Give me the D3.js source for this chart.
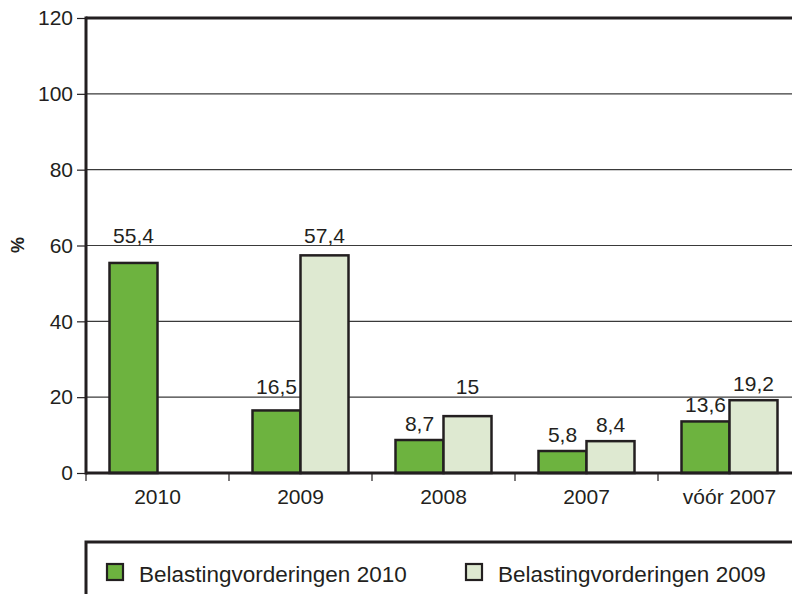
<!DOCTYPE html>
<html>
<head>
<meta charset="utf-8">
<script src="https://cdn.jsdelivr.net/npm/d3@7"></script>
<style>
  body { margin: 0; background: #fff; }
  text { font-family: "Liberation Sans", Arial, sans-serif; fill: #231f20; }
</style>
</head>
<body>
<div id="chart"></div>
<script>
// categories and the two series (values in %)
const categories = ["2010", "2009", "2008", "2007", "vóór 2007"];
const series2010 = [55.4, 16.5, 8.7, 5.8, 13.6];
const series2009 = [null, 57.4, 15, 8.4, 19.2];
const seriesNames = ["Belastingvorderingen 2010", "Belastingvorderingen 2009"];
const yTicks = [0, 20, 40, 60, 80, 100, 120];

const colors = ["#6db33f", "#dee9d1"];
const ink = "#231f20";

const W = 792, H = 594;
const margin = {top: 18, left: 86};
const plotW = 715, plotH = 455;

const svg = d3.select("#chart").append("svg")
    .attr("width", W)
    .attr("height", H);

const g = svg.append("g")
    .attr("transform", `translate(${margin.left},${margin.top})`);

// scales
const x = d3.scaleBand().domain(categories).range([0, plotW]);
const y = d3.scaleLinear().domain([0, 120]).range([plotH, 0]);
const inner = d3.scaleBand().domain([0, 1]).range([23.5, x.bandwidth() - 23.5]);

// gridlines
g.selectAll(".grid")
    .data(yTicks.filter(t => t > 0 && t < 120))
    .enter().append("line")
    .attr("x1", 0).attr("x2", plotW)
    .attr("y1", d => y(d)).attr("y2", d => y(d))
    .attr("stroke", "#3a3a3a")
    .attr("stroke-width", 1.2);

// top border of plot
g.append("line")
    .attr("x1", 0).attr("x2", plotW)
    .attr("y1", y(120)).attr("y2", y(120))
    .attr("stroke", ink).attr("stroke-width", 3);

// y axis
const yAxis = g.append("g")
    .call(d3.axisLeft(y).tickValues(yTicks).tickSize(9).tickPadding(4));
yAxis.select(".domain").remove();
yAxis.selectAll("line").attr("stroke", ink).attr("stroke-width", 1.2);
yAxis.selectAll("text").style("font-size", "21px").attr("fill", ink);

g.append("line")
    .attr("x1", 0).attr("x2", 0)
    .attr("y1", y(120) - 1.5).attr("y2", plotH + 1.5)
    .attr("stroke", ink).attr("stroke-width", 3);

// bars
const rows = categories.map((c, i) => ({cat: c, vals: [series2010[i], series2009[i]]}));
const groups = g.selectAll(".grp")
    .data(rows)
    .enter().append("g")
    .attr("transform", d => `translate(${x(d.cat)},0)`);

groups.selectAll("rect")
    .data(d => d.vals.map((v, k) => ({v, k})).filter(e => e.v !== null))
    .enter().append("rect")
    .attr("x", d => inner(d.k))
    .attr("y", d => y(d.v))
    .attr("width", inner.bandwidth())
    .attr("height", d => plotH - y(d.v))
    .attr("fill", d => colors[d.k])
    .attr("stroke", ink)
    .attr("stroke-width", 2.5);

// value labels: sit above the bar, pushed up above a gridline if they would hit it
function labelY(v) {
    let ly = y(v) - 9;
    yTicks.forEach(t => {
        const gy = y(t);
        if (t > 0 && ly > gy - 3 && ly - 15 < gy - 1) ly = gy - 3;
    });
    return ly;
}
groups.selectAll(".lbl")
    .data(d => d.vals.map((v, k) => ({v, k})).filter(e => e.v !== null))
    .enter().append("text")
    .attr("x", d => inner(d.k) + inner.bandwidth() / 2)
    .attr("y", d => labelY(d.v))
    .attr("text-anchor", "middle")
    .style("font-size", "21px")
    .text(d => String(d.v).replace(".", ","));

// x axis
g.append("line")
    .attr("x1", 0).attr("x2", plotW)
    .attr("y1", plotH).attr("y2", plotH)
    .attr("stroke", ink).attr("stroke-width", 3);

g.selectAll(".xtick")
    .data(categories)
    .enter().append("line")
    .attr("x1", d => x(d)).attr("x2", d => x(d))
    .attr("y1", plotH).attr("y2", plotH + 8)
    .attr("stroke", ink).attr("stroke-width", 1.2);

g.selectAll(".xlbl")
    .data(categories)
    .enter().append("text")
    .attr("x", d => x(d) + x.bandwidth() / 2)
    .attr("y", plotH + 31)
    .attr("text-anchor", "middle")
    .style("font-size", "21px")
    .text(d => d);

// y title
svg.append("text")
    .attr("transform", "translate(24,245) rotate(-90)")
    .attr("text-anchor", "middle")
    .style("font-size", "18px")
    .style("font-weight", "bold")
    .text("%");

// legend box
svg.append("rect")
    .attr("x", 86).attr("y", 542)
    .attr("width", 760).attr("height", 100)
    .attr("fill", "none")
    .attr("stroke", ink).attr("stroke-width", 3);

const legX = [107, 466];
const leg = svg.selectAll(".leg")
    .data(seriesNames)
    .enter().append("g")
    .attr("transform", (d, i) => `translate(${legX[i]},564)`);
leg.append("rect")
    .attr("width", 16).attr("height", 16)
    .attr("fill", (d, i) => colors[i])
    .attr("stroke", ink).attr("stroke-width", 2.2);
leg.append("text")
    .attr("x", 32).attr("y", 18)
    .style("font-size", "22.5px")
    .text(d => d);
</script>
</body>
</html>
